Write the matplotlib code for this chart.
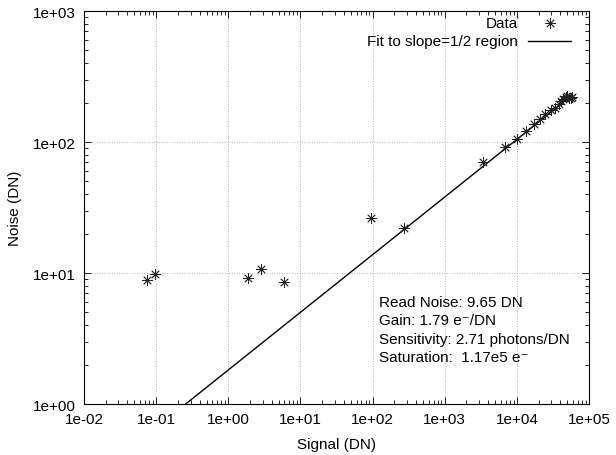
"""Noise vs signal photon transfer curve (log-log) with slope fit."""

import matplotlib

matplotlib.use("Agg")
import matplotlib.pyplot as plt
import numpy as np
from matplotlib.ticker import LogLocator, FuncFormatter, NullFormatter

plt.rcParams["font.family"] = ["Liberation Sans", "DejaVu Sans"]

signal_dn = [0.0745, 0.097, 1.87, 2.86, 6.0, 95.5, 272, 3410, 6770, 10000,
             13500, 17000, 20600, 24900, 29800, 34100, 38800, 41000, 44000,
             47900, 50000, 52000, 55600, 58000]
noise_dn = [8.9, 9.9, 9.2, 10.7, 8.6, 26.1, 21.9, 70.2, 92.2, 105,
            122, 137, 151, 164, 175, 183, 194, 205, 212,
            222, 224, 218, 215, 220]

# fit: noise = amp * signal ** slope
fit_amp = 1.82
fit_slope = 0.44
fit_range = (0.25, 56000)

info_lines = [
    "Read Noise: 9.65 DN",
    "Gain: 1.79 e\u207b/DN",
    "Sensitivity: 2.71 photons/DN",
    "Saturation:  1.17e5 e\u207b",
]

FS = 11

fig = plt.figure(figsize=(6.16, 4.56), dpi=100)
ax = fig.add_axes([0.1364, 0.1118, 0.8198, 0.8618])

fit_x = np.logspace(np.log10(fit_range[0]), np.log10(fit_range[1]), 200)
fit_y = fit_amp * fit_x ** fit_slope
ax.plot(fit_x, fit_y, color="black", lw=1.0, zorder=3)
ax.plot(signal_dn, noise_dn, linestyle="none", marker=(8, 2, 0), ms=7.5,
        mec="#222222", mew=0.6, color="black", zorder=4)

ax.set_xscale("log")
ax.set_yscale("log")
ax.set_xlim(1e-2, 1e5)
ax.set_ylim(1e0, 1e3)

fmt = FuncFormatter(lambda v, _: f"{v:.0e}")
for axis in (ax.xaxis, ax.yaxis):
    axis.set_major_locator(LogLocator(base=10, numticks=20))
    axis.set_minor_locator(LogLocator(base=10, subs=np.arange(2, 10), numticks=20))
    axis.set_major_formatter(fmt)
    axis.set_minor_formatter(NullFormatter())

ax.tick_params(which="both", direction="in", top=True, right=True, labelsize=FS)
ax.tick_params(which="major", length=5, width=0.6, pad=6)
ax.tick_params(which="minor", length=3, width=0.6)
ax.grid(True, which="major", color="#9a9a9a", lw=0.6, linestyle=(0, (1, 2)))
for spine in ax.spines.values():
    spine.set_linewidth(0.8)

ax.set_xlabel("Signal (DN)", fontsize=FS, labelpad=8)
ax.set_ylabel("Noise (DN)", fontsize=FS, labelpad=8)

# gnuplot-style key: right-aligned text followed by sample
ax.text(0.859, 0.969, "Data", transform=ax.transAxes, ha="right", va="center", fontsize=FS)
ax.plot([0.923], [0.969], transform=ax.transAxes, marker=(8, 2, 0), ms=7.5,
        mec="#222222", mew=0.6, linestyle="none", clip_on=False)
ax.text(0.859, 0.924, "Fit to slope=1/2 region", transform=ax.transAxes, ha="right",
        va="center", fontsize=FS)
ax.plot([0.879, 0.964], [0.924, 0.924], transform=ax.transAxes, color="black", lw=1.0,
        clip_on=False)

for i, line in enumerate(info_lines):
    ax.text(0.584, 0.2595 - i * 0.0466, line, transform=ax.transAxes, ha="left",
            va="center", fontsize=FS)

fig.savefig("out.png", dpi=100)
